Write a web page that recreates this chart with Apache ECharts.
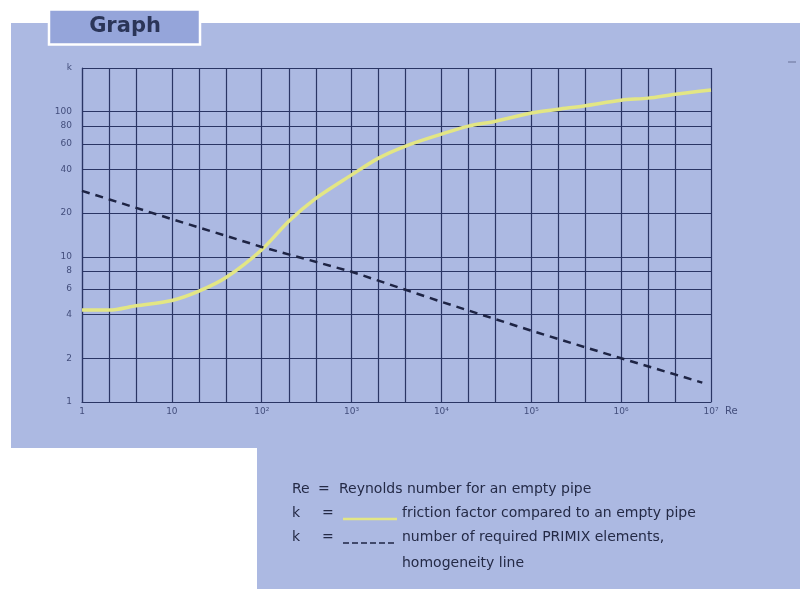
<!DOCTYPE html>
<html><head><meta charset="utf-8">
<script src="https://cdn.jsdelivr.net/npm/echarts@6/dist/echarts.min.js"></script>
<style>html,body{margin:0;padding:0;background:#fff}#c{width:800px;height:589px}</style>
</head><body><div id="c"></div>
<script>
// ---- data ----
const reGridValues = [1,2,4,10,20,40,100,200,400,1e3,2e3,4e3,1e4,2e4,4e4,1e5,2e5,4e5,1e6,2e6,4e6,1e7];
const reLabelValues = [1,10,100,1e3,1e4,1e5,1e6,1e7];
const kGridValues = [1,2,4,6,8,10,20,40,60,80,100,200];
const kLabelTop = 200;          // shown as "k"
const frictionRe = [1,2,4,10,20,40,100,200,400,1e3,2e3,4e3,1e4,2e4,4e4,1e5,2e5,4e5,1e6,2e6,4e6,1e7];
const frictionK  = [4.3,4.3,4.6,5.0,5.8,7.2,11.2,17.6,25.3,36.7,47.9,58,70,79.6,86,98,104,110,120,124,132,141];
const primixRe = [1,10,100,1e3,1e4,1e5,1e6,8e6];
const primixK  = [28.5,18.2,11.7,7.9,4.9,3.1,2.0,1.36];

const BG = '#acb9e2';
const GRIDC = '#2a3564';
const LABELC = '#434e7c';
const TEXTC = '#242a46';
const sup = '⁰¹²³⁴⁵⁶⁷⁸⁹';
function reLabel(v){
  const e = Math.round(Math.log10(v));
  if (e === 0) return '1';
  if (e === 1) return '10';
  return '10' + String(e).split('').map(d => sup[+d]).join('');
}
const chart = echarts.init(document.getElementById('c'));
chart.setOption({
  animation: false,
  backgroundColor: '#ffffff',
  grid: { left: 82, right: 89, top: 68, bottom: 187, containLabel: false },
  xAxis: {
    type: 'log', logBase: 10, min: 1, max: 1e7,
    name: 'Re', nameLocation: 'end', nameGap: 14,
    nameTextStyle: { color: LABELC, fontSize: 10, fontFamily: 'DejaVu Sans', verticalAlign: 'top', padding: [4,0,0,0] },
    axisLine: { show: true, lineStyle: { color: GRIDC, width: 1.2 } },
    axisTick: { show: false, customValues: reGridValues },
    axisLabel: { customValues: reLabelValues, formatter: reLabel, color: LABELC, fontSize: 9, fontFamily: 'DejaVu Sans', margin: 5 },
    splitLine: { show: true, lineStyle: { color: GRIDC, width: 1.2 } }
  },
  yAxis: {
    type: 'log', logBase: 10, min: 1, max: 200,
    axisLine: { show: true, lineStyle: { color: GRIDC, width: 1.2 } },
    axisTick: { show: false, customValues: kGridValues },
    axisLabel: { customValues: kGridValues, formatter: v => (Math.abs(v - kLabelTop) < 1 ? 'k' : String(Math.round(v))), color: LABELC, fontSize: 9, fontFamily: 'DejaVu Sans', margin: 10 },
    splitLine: { show: true, lineStyle: { color: GRIDC, width: 1.2 } }
  },
  series: [
    {
      type: 'line', name: 'friction factor', smooth: 0.3, showSymbol: false, z: 3,
      data: frictionRe.map((r, i) => [r, frictionK[i]]),
      lineStyle: { color: '#e3e684', width: 3.5 }
    },
    {
      type: 'line', name: 'PRIMIX elements', smooth: false, showSymbol: false, z: 4,
      data: primixRe.map((r, i) => [r, primixK[i]]),
      lineStyle: { color: '#1e2444', width: 2.5, type: [8, 6] }
    }
  ],
  graphic: { elements: [
    { type: 'rect', z: -10, shape: { x: 11, y: 23, width: 789, height: 425 }, style: { fill: BG } },
    { type: 'rect', z: -10, shape: { x: 257, y: 447, width: 543, height: 142 }, style: { fill: BG } },
    { type: 'rect', z: 10, shape: { x: 49, y: 9.5, width: 151, height: 35 }, style: { fill: '#95a5da', stroke: '#ffffff', lineWidth: 2.5 } },
    { type: 'text', z: 11, x: 125, y: 27, style: { text: 'Graph', fill: '#2b3558', font: '600 21px "DejaVu Sans"', textAlign: 'center', textVerticalAlign: 'middle' } },
    { type: 'line', z: 10, shape: { x1: 788, y1: 62, x2: 796, y2: 62 }, style: { stroke: '#7f8ab0', lineWidth: 1.5 } },
    // legend block
    { type: 'text', z: 10, x: 292, y: 489, style: { text: 'Re', fill: TEXTC, font: '14px "DejaVu Sans"', textVerticalAlign: 'middle' } },
    { type: 'text', z: 10, x: 318, y: 489, style: { text: '=', fill: TEXTC, font: '14px "DejaVu Sans"', textVerticalAlign: 'middle' } },
    { type: 'text', z: 10, x: 339, y: 489, style: { text: 'Reynolds number for an empty pipe', fill: TEXTC, font: '14px "DejaVu Sans"', textVerticalAlign: 'middle' } },
    { type: 'text', z: 10, x: 292, y: 513, style: { text: 'k', fill: TEXTC, font: '14px "DejaVu Sans"', textVerticalAlign: 'middle' } },
    { type: 'text', z: 10, x: 322, y: 513, style: { text: '=', fill: TEXTC, font: '14px "DejaVu Sans"', textVerticalAlign: 'middle' } },
    { type: 'line', z: 10, shape: { x1: 343, y1: 519, x2: 397, y2: 519 }, style: { stroke: '#e3e684', lineWidth: 2.5 } },
    { type: 'text', z: 10, x: 402, y: 513, style: { text: 'friction factor compared to an empty pipe', fill: TEXTC, font: '14px "DejaVu Sans"', textVerticalAlign: 'middle' } },
    { type: 'text', z: 10, x: 292, y: 537, style: { text: 'k', fill: TEXTC, font: '14px "DejaVu Sans"', textVerticalAlign: 'middle' } },
    { type: 'text', z: 10, x: 322, y: 537, style: { text: '=', fill: TEXTC, font: '14px "DejaVu Sans"', textVerticalAlign: 'middle' } },
    { type: 'line', z: 10, shape: { x1: 343, y1: 543, x2: 397, y2: 543 }, style: { stroke: '#1e2444', lineWidth: 1.5, lineDash: [6, 3] } },
    { type: 'text', z: 10, x: 402, y: 537, style: { text: 'number of required PRIMIX elements,', fill: TEXTC, font: '14px "DejaVu Sans"', textVerticalAlign: 'middle' } },
    { type: 'text', z: 10, x: 402, y: 563, style: { text: 'homogeneity line', fill: TEXTC, font: '14px "DejaVu Sans"', textVerticalAlign: 'middle' } }
  ] }
});
</script></body></html>
